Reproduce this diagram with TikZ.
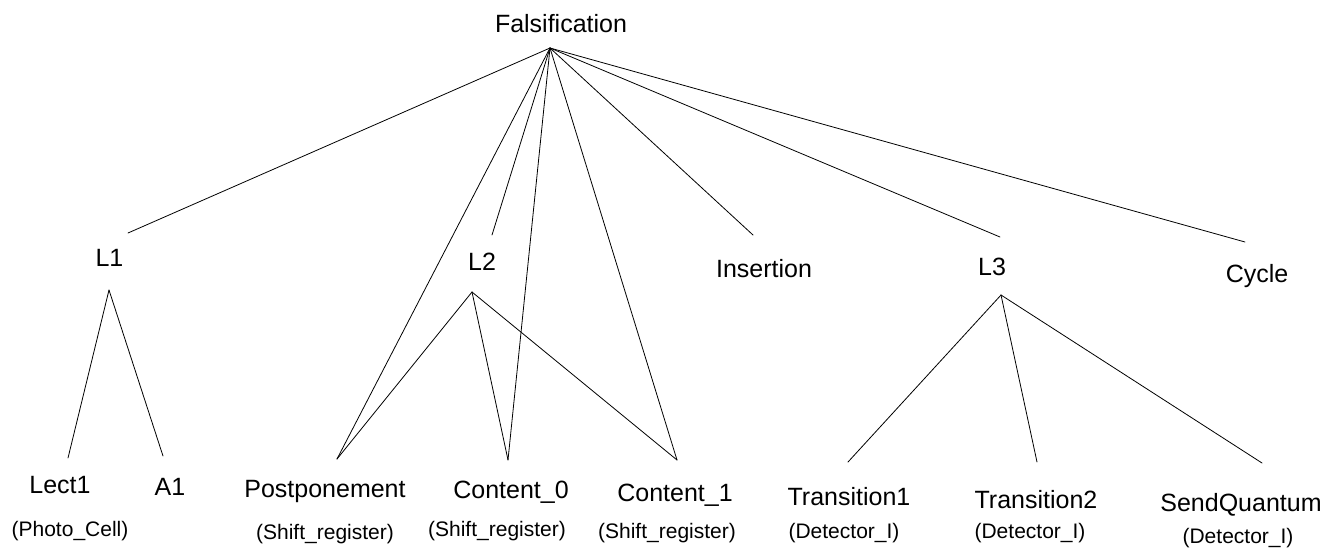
\documentclass[tikz,border=0pt]{standalone}
\usepackage{fontspec}
\setmainfont{Liberation Sans}
\begin{document}
\begin{tikzpicture}[x=1pt,y=-1pt,
  lbl/.style={anchor=base,inner sep=0pt,font=\fontsize{25}{30}\selectfont},
  sub/.style={anchor=base,inner sep=0pt,font=\fontsize{21}{25}\selectfont},
  edge/.style={line width=0.8pt,line cap=round}]
\useasboundingbox (0,0) rectangle (1340,547);

% labels
\node[lbl] (fals) at (561,32) {Falsification};
\node[lbl] (l1)   at (109.5,266) {L1};
\node[lbl] (l2)   at (482,270) {L2};
\node[lbl] (ins)  at (764,277) {Insertion};
\node[lbl] (l3)   at (992,275) {L3};
\node[lbl] (cyc)  at (1257,282) {Cycle};

\node[lbl] (lect) at (60,493) {Lect1};
\node[lbl] (a1)   at (170,495) {A1};
\node[lbl] (post) at (325,497) {Postponement};
\node[lbl] (c0)   at (511,498) {Content\_0};
\node[lbl] (c1)   at (675,501) {Content\_1};
\node[lbl] (t1)   at (849,505) {Transition1};
\node[lbl] (t2)   at (1036,508) {Transition2};
\node[lbl] (sq)   at (1241,511) {SendQuantum};

\node[sub] (lect-s) at (70,536)   {(Photo\_Cell)};
\node[sub] (post-s) at (325,539)  {(Shift\_register)};
\node[sub] (c0-s)   at (497,536)  {(Shift\_register)};
\node[sub] (c1-s)   at (667,538)  {(Shift\_register)};
\node[sub] (t1-s)   at (844,538)  {(Detector\_I)};
\node[sub] (t2-s)   at (1030,538) {(Detector\_I)};
\node[sub] (sq-s)   at (1238,543) {(Detector\_I)};

% connector ends
\coordinate (fals-out) at (550,48);
\coordinate (l1-in)    at (128,233);
\coordinate (l1-out)   at (109,290);
\coordinate (lect-in)  at (68,458);
\coordinate (a1-in)    at (163,456);
\coordinate (l2-in)    at (492,235);
\coordinate (l2-out)   at (472,292);
\coordinate (post-in)  at (337,459);
\coordinate (c0-in)    at (508,460);
\coordinate (c1-in)    at (677,460);
\coordinate (ins-in)   at (753,235);
\coordinate (l3-in)    at (1000,237);
\coordinate (l3-out)   at (1001,295);
\coordinate (t1-in)    at (848,462);
\coordinate (t2-in)    at (1037,462);
\coordinate (sq-in)    at (1262,463);
\coordinate (cyc-in)   at (1245,242);

% root branches
\foreach \t in {l1-in,l2-in,post-in,c0-in,c1-in,ins-in,l3-in,cyc-in}
  \draw[edge] (fals-out) -- (\t);
% L1 branches
\foreach \t in {lect-in,a1-in}
  \draw[edge] (l1-out) -- (\t);
% L2 branches
\foreach \t in {post-in,c0-in,c1-in}
  \draw[edge] (l2-out) -- (\t);
% L3 branches
\foreach \t in {t1-in,t2-in,sq-in}
  \draw[edge] (l3-out) -- (\t);
\end{tikzpicture}
\end{document}
